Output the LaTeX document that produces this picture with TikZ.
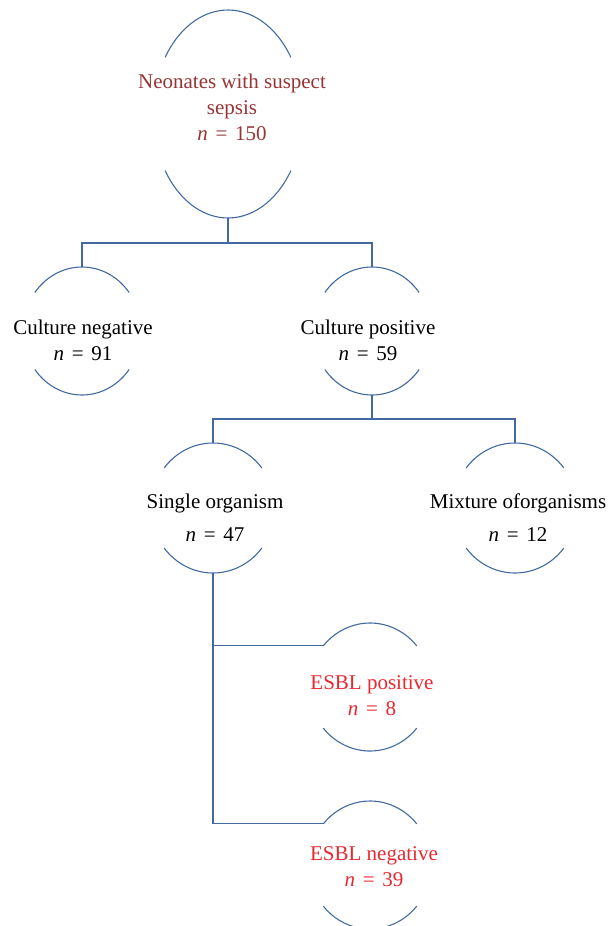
\documentclass[tikz,border=0pt]{standalone}
\usepackage{fontspec}
\setmainfont{Liberation Serif}
\usetikzlibrary{shapes.geometric}

\definecolor{lineblue}{RGB}{66,106,160}
\definecolor{darkred}{RGB}{152,52,52}
\definecolor{brightred}{RGB}{232,40,48}

% oval with only its top and bottom drawn: name, position, x radius, y radius, angle
\newcommand{\splitoval}[5]{%
    \node[ellipse, inner sep=0pt, outer sep=0pt,
          minimum width=2*#3, minimum height=2*#4] (#1) at (#2) {};
    \draw[conn] (#1.center) ++(#5:#3 and #4)
        arc[start angle=#5, end angle=180-#5, x radius=#3, y radius=#4]
        coordinate (#1-tl);
    \draw[conn] (#1.center) ++(-#5:#3 and #4)
        arc[start angle=-#5, end angle=#5-180, x radius=#3, y radius=#4];
}
% count line
\newcommand{\nval}[1]{\textit{n}\hspace{0.12em} = \hspace{0.12em}#1}

\begin{document}
\begin{tikzpicture}[x=1pt, y=1pt,
        conn/.style={draw=lineblue, line width=1.1pt},
        lbl/.style={align=center, inner sep=0pt,
                    font=\fontsize{21}{26}\selectfont}]
    \useasboundingbox (0,0) rectangle (609,-926);

    % ovals
    \splitoval{root}{228,-114}{75}{104}{33}
    \splitoval{cneg}{82,-331}{59}{64}{37}
    \splitoval{cpos}{372,-331}{59}{64}{37}
    \splitoval{single}{213,-508}{62}{65}{38}
    \splitoval{mixed}{515,-508}{62}{65}{38}
    \splitoval{esblpos}{370,-687}{61}{64}{40}
    \splitoval{esblneg}{370,-865}{61}{64}{40}

    % texts
    \node[lbl, text=darkred] (root-txt) at (232,-107)
        {Neonates with suspect\\ sepsis\\ \nval{150}};
    \node[lbl] (cneg-txt) at (83,-340) {Culture negative\\ \nval{91}};
    \node[lbl] (cpos-txt) at (368,-340) {Culture positive\\ \nval{59}};
    \node[lbl] (single-txt) at (215,-518) {Single organism\\[7pt] \nval{47}};
    \node[lbl] (mixed-txt) at (518,-518) {Mixture oforganisms\\[7pt] \nval{12}};
    \node[lbl, text=brightred] (esblpos-txt) at (372,-696)
        {ESBL positive\\ \nval{8}};
    \node[lbl, text=brightred] (esblneg-txt) at (374,-867)
        {ESBL negative\\ \nval{39}};

    % connectors
    \draw[conn] (root.south) -- ++(0,-25) coordinate (rootfork);
    \draw[conn] (cneg.north) |- (rootfork) -| (cpos.north);
    \draw[conn] (cpos.south) -- ++(0,-24) coordinate (posfork);
    \draw[conn] (single.north) |- (posfork) -| (mixed.north);
    \draw[conn] (esblneg-tl) -| (single.south);
    \draw[conn] (esblpos-tl) -| (single.south);
\end{tikzpicture}
\end{document}
